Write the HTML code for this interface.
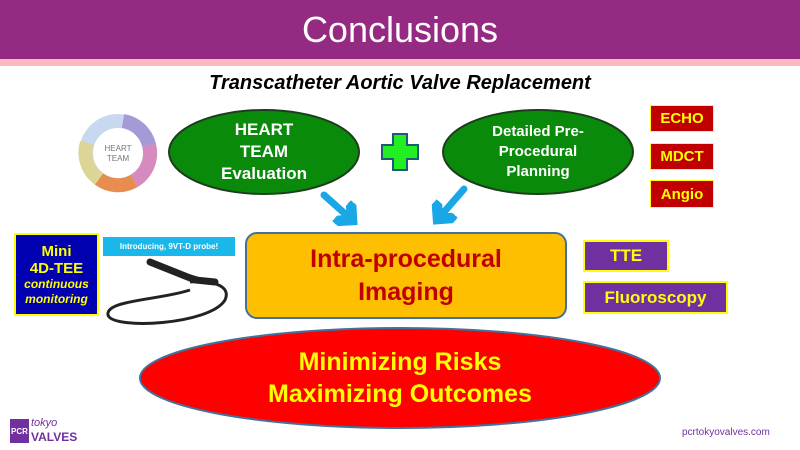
<!DOCTYPE html>
<html><head><style>
body{margin:0;width:800px;height:450px;overflow:hidden;background:#fff;font-family:"Liberation Sans",sans-serif;position:relative}
.a{position:absolute}
.box{position:absolute;display:flex;align-items:center;justify-content:center;font-weight:bold;text-align:center}
</style></head><body>
<div class="a" style="left:0;top:0;width:800px;height:59px;background:#952a82"></div>
<div class="a" style="left:0;top:59px;width:800px;height:7px;background:#fbb8bd"></div>
<div class="a" style="left:0;top:9px;width:800px;text-align:center;color:#fff;font-size:36px;font-family:'Liberation Sans',sans-serif">Conclusions</div>
<div class="a" style="left:0;top:72px;width:800px;text-align:center;font-size:20px;font-weight:bold;font-style:italic">Transcatheter Aortic Valve Replacement</div>
<svg class="a" style="left:0;top:0" width="800" height="450">
<defs><marker id="m" markerWidth="4" markerHeight="4" refX="2" refY="2" orient="auto"><path d="M0,0 L2,2 L0,4" fill="none" stroke="#1aa7e6" stroke-width="1.5"/></marker></defs>
<g transform="translate(118,153)">
<circle r="32" fill="none" stroke="#c8d8ee" stroke-width="14"/>
<path d="M5,-32 A32,32 0 0 1 31,-8" fill="none" stroke="#a49ad6" stroke-width="14"/>
<path d="M31,-8 A32,32 0 0 1 16,28" fill="none" stroke="#d58bbd" stroke-width="14"/>
<path d="M16,28 A32,32 0 0 1 -19,26" fill="none" stroke="#e88d4e" stroke-width="14"/>
<path d="M-19,26 A32,32 0 0 1 -31,-10" fill="none" stroke="#dcd596" stroke-width="14"/>
<text y="-2" font-size="8" text-anchor="middle" fill="#777">HEART</text>
<text y="8" font-size="8" text-anchor="middle" fill="#777">TEAM</text>
</g>
<ellipse cx="264" cy="152" rx="95" ry="42" fill="#0a8a0a" stroke="#1d3d1d" stroke-width="2"/>
<ellipse cx="538" cy="152" rx="95" ry="42" fill="#0a8a0a" stroke="#1d3d1d" stroke-width="2"/>
<path d="M393,134 h14 v11 h11 v14 h-11 v11 h-14 v-11 h-11 v-14 h11z" fill="#22ee22" stroke="#1c5a7a" stroke-width="2"/>
<path d="M324,195 L352,220" stroke="#1aa7e6" stroke-width="7" stroke-linecap="round" marker-end="url(#m)"/>
<path d="M464,189 L438,219" stroke="#1aa7e6" stroke-width="7" stroke-linecap="round" marker-end="url(#m)"/>
<rect x="246" y="233" width="320" height="85" rx="11" fill="#fdbf00" stroke="#41719c" stroke-width="2"/>
<ellipse cx="400" cy="378" rx="260" ry="50" fill="#ff0000" stroke="#41719c" stroke-width="2"/>
<path d="M190,290 C160,300 105,300 108,315 C112,330 210,325 225,300 C232,285 210,280 190,282" fill="none" stroke="#222" stroke-width="3"/>
<path d="M150,262 L195,280 L215,282" stroke="#222" stroke-width="7" stroke-linecap="round"/>
</svg>
<div class="box" style="left:168px;top:117px;width:192px;height:70px;color:#fff;font-size:17px;line-height:22px">HEART<br>TEAM<br>Evaluation</div>
<div class="box" style="left:443px;top:117px;width:190px;height:70px;color:#fff;font-size:15px;line-height:20px">Detailed Pre-<br>Procedural<br>Planning</div>
<div class="box" style="left:650px;top:105px;width:62px;height:25px;background:#c00000;border:1px solid #ff0;color:#ff0;font-size:15px">ECHO</div>
<div class="box" style="left:650px;top:143px;width:62px;height:25px;background:#c00000;border:1px solid #ff0;color:#ff0;font-size:15px">MDCT</div>
<div class="box" style="left:650px;top:180px;width:62px;height:26px;background:#c00000;border:1px solid #ff0;color:#ff0;font-size:15px">Angio</div>
<div class="box" style="left:246px;top:233px;width:320px;height:85px;color:#c00000;font-size:25px;line-height:33px">Intra-procedural<br>Imaging</div>
<div class="box" style="left:14px;top:233px;width:81px;height:79px;background:#0000b0;border:2px solid #ff0;color:#ff0;font-size:15px;line-height:17px;flex-direction:column">Mini<br>4D-TEE<span style="font-size:12px;font-style:italic;line-height:15px">continuous<br>monitoring</span></div>
<div class="box" style="left:103px;top:237px;width:132px;height:19px;background:#1ab8ea;color:#fff;font-size:8px">Introducing, 9VT-D probe!</div>
<div class="box" style="left:583px;top:240px;width:82px;height:28px;background:#7030a0;border:2px solid #ff0;color:#ff0;font-size:17px">TTE</div>
<div class="box" style="left:583px;top:281px;width:141px;height:29px;background:#7030a0;border:2px solid #ff0;color:#ff0;font-size:17px">Fluoroscopy</div>
<div class="box" style="left:140px;top:345px;width:520px;height:66px;color:#ff0;font-size:25px;line-height:32px">Minimizing Risks<br>Maximizing Outcomes</div>
<div class="box" style="left:10px;top:419px;width:19px;height:24px;background:#7030a0;color:#fff;font-size:8px">PCR</div>
<div class="a" style="left:31px;top:417px;color:#7030a0;font-size:11px;font-style:italic">tokyo</div>
<div class="a" style="left:31px;top:430px;color:#7030a0;font-size:12px;font-weight:bold">VALVES</div>
<div class="a" style="left:682px;top:427px;color:#7030a0;font-size:10px">pcrtokyovalves.com</div>
</body></html>
